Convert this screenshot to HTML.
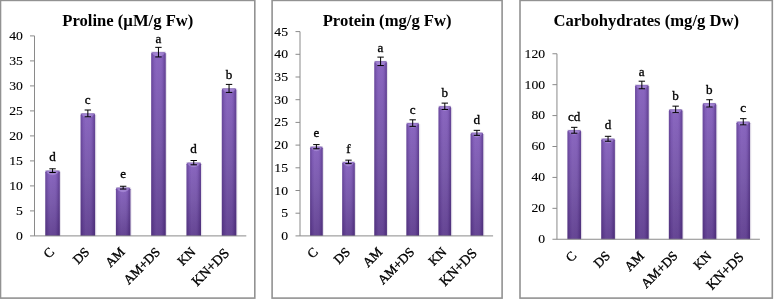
<!DOCTYPE html>
<html><head><meta charset="utf-8"><title>Charts</title>
<style>
html,body{margin:0;padding:0;background:#fff;}
svg{display:block;font-family:"Liberation Serif","Times New Roman",serif;}
.t{font-weight:bold;font-size:15.8px;text-anchor:middle;fill:#000;}
.y{font-size:13.5px;text-anchor:end;fill:#000;stroke:#000;stroke-width:0.12px;}
.x{font-size:13.2px;text-anchor:end;fill:#000;stroke:#000;stroke-width:0.35px;}
.d{font-size:12.4px;text-anchor:middle;fill:#000;stroke:#000;stroke-width:0.3px;}
.ax{stroke:#8a8a8a;stroke-width:1;fill:none;}
.bd{stroke:#929292;stroke-width:1.6;fill:#fff;}
.e{stroke:#000;stroke-width:1;fill:none;}
</style></head><body>
<svg width="774" height="299" viewBox="0 0 774 299">
<defs>
<linearGradient id="gv" x1="0" y1="0" x2="0" y2="1">
<stop offset="0" stop-color="#8661be"/><stop offset="0.5" stop-color="#7555a8"/><stop offset="1" stop-color="#603f90"/>
</linearGradient>
<linearGradient id="gh" x1="0" y1="0" x2="1" y2="0">
<stop offset="0" stop-color="#2a1050" stop-opacity="0.30"/>
<stop offset="0.13" stop-color="#2a1050" stop-opacity="0.14"/>
<stop offset="0.2" stop-color="#2a1050" stop-opacity="0.03"/>
<stop offset="0.35" stop-color="#fff" stop-opacity="0.04"/>
<stop offset="0.6" stop-color="#fff" stop-opacity="0.03"/>
<stop offset="0.8" stop-color="#2a1050" stop-opacity="0.08"/>
<stop offset="0.88" stop-color="#2a1050" stop-opacity="0.22"/>
<stop offset="1" stop-color="#2a1050" stop-opacity="0.38"/>
</linearGradient>
</defs>
<rect x="0" y="0" width="774" height="299" fill="#fff"/>
<rect class="bd" x="0.5" y="0.4" width="254.30" height="297.70"/>
<text class="t" transform="translate(127.8 25.75) scale(1.052 1)">Proline (µM/g Fw)</text>
<rect x="46.50" y="171.65" width="14.50" height="64.25" fill="#7a6a95" opacity="0.18"/>
<path d="M45.30 235.90V172.25Q45.30 170.65 46.90 170.65H58.20Q59.80 170.65 59.80 172.25V235.90Z" fill="url(#gv)"/>
<path d="M45.30 235.90V172.25Q45.30 170.65 46.90 170.65H58.20Q59.80 170.65 59.80 172.25V235.90Z" fill="url(#gh)"/>
<path d="M45.60 170.65H59.50L57.40 173.45Q52.55 177.05 47.70 173.45Z" fill="#cdb8f5" opacity="0.36"/>
<path d="M45.30 170.65H59.80" stroke="#4a2c80" stroke-width="0.8" opacity="0.35"/>
<path class="e" d="M52.55 168.80V172.50M49.35 168.80h6.4M49.35 172.50h6.4"/>
<text class="d" transform="translate(52.45 161.35) scale(1.06 1)">d</text>
<text class="x" transform="translate(54.95 252.80) rotate(-45)">C</text>
<rect x="81.80" y="114.40" width="14.50" height="121.50" fill="#7a6a95" opacity="0.18"/>
<path d="M80.60 235.90V115.00Q80.60 113.40 82.20 113.40H93.50Q95.10 113.40 95.10 115.00V235.90Z" fill="url(#gv)"/>
<path d="M80.60 235.90V115.00Q80.60 113.40 82.20 113.40H93.50Q95.10 113.40 95.10 115.00V235.90Z" fill="url(#gh)"/>
<path d="M80.90 113.40H94.80L92.70 116.20Q87.85 119.80 83.00 116.20Z" fill="#cdb8f5" opacity="0.36"/>
<path d="M80.60 113.40H95.10" stroke="#4a2c80" stroke-width="0.8" opacity="0.35"/>
<path class="e" d="M87.85 110.00V116.80M84.65 110.00h6.4M84.65 116.80h6.4"/>
<text class="d" transform="translate(87.75 104.10) scale(1.06 1)">c</text>
<text class="x" transform="translate(90.25 252.80) rotate(-45)">DS</text>
<rect x="117.10" y="188.65" width="14.50" height="47.25" fill="#7a6a95" opacity="0.18"/>
<path d="M115.90 235.90V189.25Q115.90 187.65 117.50 187.65H128.80Q130.40 187.65 130.40 189.25V235.90Z" fill="url(#gv)"/>
<path d="M115.90 235.90V189.25Q115.90 187.65 117.50 187.65H128.80Q130.40 187.65 130.40 189.25V235.90Z" fill="url(#gh)"/>
<path d="M116.20 187.65H130.10L128.00 190.45Q123.15 194.05 118.30 190.45Z" fill="#cdb8f5" opacity="0.36"/>
<path d="M115.90 187.65H130.40" stroke="#4a2c80" stroke-width="0.8" opacity="0.35"/>
<path class="e" d="M123.15 186.25V189.05M119.95 186.25h6.4M119.95 189.05h6.4"/>
<text class="d" transform="translate(123.05 178.35) scale(1.06 1)">e</text>
<text class="x" transform="translate(125.55 252.80) rotate(-45)">AM</text>
<rect x="152.40" y="53.15" width="14.50" height="182.75" fill="#7a6a95" opacity="0.18"/>
<path d="M151.20 235.90V53.75Q151.20 52.15 152.80 52.15H164.10Q165.70 52.15 165.70 53.75V235.90Z" fill="url(#gv)"/>
<path d="M151.20 235.90V53.75Q151.20 52.15 152.80 52.15H164.10Q165.70 52.15 165.70 53.75V235.90Z" fill="url(#gh)"/>
<path d="M151.50 52.15H165.40L163.30 54.95Q158.45 58.55 153.60 54.95Z" fill="#cdb8f5" opacity="0.36"/>
<path d="M151.20 52.15H165.70" stroke="#4a2c80" stroke-width="0.8" opacity="0.35"/>
<path class="e" d="M158.45 47.35V56.95M155.25 47.35h6.4M155.25 56.95h6.4"/>
<text class="d" transform="translate(158.35 42.85) scale(1.06 1)">a</text>
<text class="x" transform="translate(160.85 252.80) rotate(-45)">AM+DS</text>
<rect x="187.70" y="163.65" width="14.50" height="72.25" fill="#7a6a95" opacity="0.18"/>
<path d="M186.50 235.90V164.25Q186.50 162.65 188.10 162.65H199.40Q201.00 162.65 201.00 164.25V235.90Z" fill="url(#gv)"/>
<path d="M186.50 235.90V164.25Q186.50 162.65 188.10 162.65H199.40Q201.00 162.65 201.00 164.25V235.90Z" fill="url(#gh)"/>
<path d="M186.80 162.65H200.70L198.60 165.45Q193.75 169.05 188.90 165.45Z" fill="#cdb8f5" opacity="0.36"/>
<path d="M186.50 162.65H201.00" stroke="#4a2c80" stroke-width="0.8" opacity="0.35"/>
<path class="e" d="M193.75 160.50V164.80M190.55 160.50h6.4M190.55 164.80h6.4"/>
<text class="d" transform="translate(193.65 153.35) scale(1.06 1)">d</text>
<text class="x" transform="translate(196.15 252.80) rotate(-45)">KN</text>
<rect x="223.00" y="89.40" width="14.50" height="146.50" fill="#7a6a95" opacity="0.18"/>
<path d="M221.80 235.90V90.00Q221.80 88.40 223.40 88.40H234.70Q236.30 88.40 236.30 90.00V235.90Z" fill="url(#gv)"/>
<path d="M221.80 235.90V90.00Q221.80 88.40 223.40 88.40H234.70Q236.30 88.40 236.30 90.00V235.90Z" fill="url(#gh)"/>
<path d="M222.10 88.40H236.00L233.90 91.20Q229.05 94.80 224.20 91.20Z" fill="#cdb8f5" opacity="0.36"/>
<path d="M221.80 88.40H236.30" stroke="#4a2c80" stroke-width="0.8" opacity="0.35"/>
<path class="e" d="M229.05 84.40V92.40M225.85 84.40h6.4M225.85 92.40h6.4"/>
<text class="d" transform="translate(228.95 79.10) scale(1.06 1)">b</text>
<text class="x" style="font-size:14.1px" transform="translate(229.95 253.90) rotate(-45)">KN+DS</text>
<path class="ax" d="M34.5 35.90V235.9"/>
<path class="ax" d="M30.0 235.9H246.30"/>
<text class="y" transform="translate(22.9 240.40) scale(1.015 1)">0</text>
<path class="ax" d="M30.0 210.90H34.5"/>
<text class="y" transform="translate(22.9 215.40) scale(1.015 1)">5</text>
<path class="ax" d="M30.0 185.90H34.5"/>
<text class="y" transform="translate(22.9 190.40) scale(1.015 1)">10</text>
<path class="ax" d="M30.0 160.90H34.5"/>
<text class="y" transform="translate(22.9 165.40) scale(1.015 1)">15</text>
<path class="ax" d="M30.0 135.90H34.5"/>
<text class="y" transform="translate(22.9 140.40) scale(1.015 1)">20</text>
<path class="ax" d="M30.0 110.90H34.5"/>
<text class="y" transform="translate(22.9 115.40) scale(1.015 1)">25</text>
<path class="ax" d="M30.0 85.90H34.5"/>
<text class="y" transform="translate(22.9 90.40) scale(1.015 1)">30</text>
<path class="ax" d="M30.0 60.90H34.5"/>
<text class="y" transform="translate(22.9 65.40) scale(1.015 1)">35</text>
<path class="ax" d="M30.0 35.90H34.5"/>
<text class="y" transform="translate(22.9 40.40) scale(1.015 1)">40</text>
<rect class="bd" x="272.1" y="0.4" width="230.00" height="297.70"/>
<text class="t" transform="translate(387.1 25.75) scale(1.052 1)">Protein (mg/g Fw)</text>
<rect x="311.30" y="147.69" width="12.60" height="88.21" fill="#7a6a95" opacity="0.18"/>
<path d="M310.10 235.90V148.29Q310.10 146.69 311.70 146.69H321.10Q322.70 146.69 322.70 148.29V235.90Z" fill="url(#gv)"/>
<path d="M310.10 235.90V148.29Q310.10 146.69 311.70 146.69H321.10Q322.70 146.69 322.70 148.29V235.90Z" fill="url(#gh)"/>
<path d="M310.40 146.69H322.40L320.30 149.49Q316.40 153.09 312.50 149.49Z" fill="#cdb8f5" opacity="0.36"/>
<path d="M310.10 146.69H322.70" stroke="#4a2c80" stroke-width="0.8" opacity="0.35"/>
<path class="e" d="M316.40 144.60V148.78M313.20 144.60h6.4M313.20 148.78h6.4"/>
<text class="d" transform="translate(316.30 137.39) scale(1.06 1)">e</text>
<text class="x" transform="translate(318.80 252.80) rotate(-45)">C</text>
<rect x="343.40" y="162.90" width="12.60" height="73.00" fill="#7a6a95" opacity="0.18"/>
<path d="M342.20 235.90V163.50Q342.20 161.90 343.80 161.90H353.20Q354.80 161.90 354.80 163.50V235.90Z" fill="url(#gv)"/>
<path d="M342.20 235.90V163.50Q342.20 161.90 343.80 161.90H353.20Q354.80 161.90 354.80 163.50V235.90Z" fill="url(#gh)"/>
<path d="M342.50 161.90H354.50L352.40 164.70Q348.50 168.30 344.60 164.70Z" fill="#cdb8f5" opacity="0.36"/>
<path d="M342.20 161.90H354.80" stroke="#4a2c80" stroke-width="0.8" opacity="0.35"/>
<path class="e" d="M348.50 160.17V163.62M345.30 160.17h6.4M345.30 163.62h6.4"/>
<text class="d" transform="translate(348.40 152.60) scale(1.06 1)">f</text>
<text class="x" transform="translate(350.90 252.80) rotate(-45)">DS</text>
<rect x="375.50" y="62.34" width="12.60" height="173.56" fill="#7a6a95" opacity="0.18"/>
<path d="M374.30 235.90V62.94Q374.30 61.34 375.90 61.34H385.30Q386.90 61.34 386.90 62.94V235.90Z" fill="url(#gv)"/>
<path d="M374.30 235.90V62.94Q374.30 61.34 375.90 61.34H385.30Q386.90 61.34 386.90 62.94V235.90Z" fill="url(#gh)"/>
<path d="M374.60 61.34H386.60L384.50 64.14Q380.60 67.74 376.70 64.14Z" fill="#cdb8f5" opacity="0.36"/>
<path d="M374.30 61.34H386.90" stroke="#4a2c80" stroke-width="0.8" opacity="0.35"/>
<path class="e" d="M380.60 57.11V65.56M377.40 57.11h6.4M377.40 65.56h6.4"/>
<text class="d" transform="translate(380.50 52.04) scale(1.06 1)">a</text>
<text class="x" transform="translate(383.00 252.80) rotate(-45)">AM</text>
<rect x="407.60" y="124.08" width="12.60" height="111.82" fill="#7a6a95" opacity="0.18"/>
<path d="M406.40 235.90V124.68Q406.40 123.08 408.00 123.08H417.40Q419.00 123.08 419.00 124.68V235.90Z" fill="url(#gv)"/>
<path d="M406.40 235.90V124.68Q406.40 123.08 408.00 123.08H417.40Q419.00 123.08 419.00 124.68V235.90Z" fill="url(#gh)"/>
<path d="M406.70 123.08H418.70L416.60 125.88Q412.70 129.48 408.80 125.88Z" fill="#cdb8f5" opacity="0.36"/>
<path d="M406.40 123.08H419.00" stroke="#4a2c80" stroke-width="0.8" opacity="0.35"/>
<path class="e" d="M412.70 119.81V126.35M409.50 119.81h6.4M409.50 126.35h6.4"/>
<text class="d" transform="translate(412.60 113.78) scale(1.06 1)">c</text>
<text class="x" transform="translate(415.10 252.80) rotate(-45)">AM+DS</text>
<rect x="439.70" y="107.28" width="12.60" height="128.62" fill="#7a6a95" opacity="0.18"/>
<path d="M438.50 235.90V107.88Q438.50 106.28 440.10 106.28H449.50Q451.10 106.28 451.10 107.88V235.90Z" fill="url(#gv)"/>
<path d="M438.50 235.90V107.88Q438.50 106.28 440.10 106.28H449.50Q451.10 106.28 451.10 107.88V235.90Z" fill="url(#gh)"/>
<path d="M438.80 106.28H450.80L448.70 109.08Q444.80 112.68 440.90 109.08Z" fill="#cdb8f5" opacity="0.36"/>
<path d="M438.50 106.28H451.10" stroke="#4a2c80" stroke-width="0.8" opacity="0.35"/>
<path class="e" d="M444.80 103.11V109.46M441.60 103.11h6.4M441.60 109.46h6.4"/>
<text class="d" transform="translate(444.70 96.98) scale(1.06 1)">b</text>
<text class="x" transform="translate(447.20 252.80) rotate(-45)">KN</text>
<rect x="471.80" y="133.84" width="12.60" height="102.06" fill="#7a6a95" opacity="0.18"/>
<path d="M470.60 235.90V134.44Q470.60 132.84 472.20 132.84H481.60Q483.20 132.84 483.20 134.44V235.90Z" fill="url(#gv)"/>
<path d="M470.60 235.90V134.44Q470.60 132.84 472.20 132.84H481.60Q483.20 132.84 483.20 134.44V235.90Z" fill="url(#gh)"/>
<path d="M470.90 132.84H482.90L480.80 135.64Q476.90 139.24 473.00 135.64Z" fill="#cdb8f5" opacity="0.36"/>
<path d="M470.60 132.84H483.20" stroke="#4a2c80" stroke-width="0.8" opacity="0.35"/>
<path class="e" d="M476.90 130.34V135.34M473.70 130.34h6.4M473.70 135.34h6.4"/>
<text class="d" transform="translate(476.80 123.54) scale(1.06 1)">d</text>
<text class="x" style="font-size:14.1px" transform="translate(477.80 253.90) rotate(-45)">KN+DS</text>
<path class="ax" d="M300 31.60V235.9"/>
<path class="ax" d="M295.5 235.9H493.10"/>
<text class="y" transform="translate(288.0 239.90) scale(1.015 1)">0</text>
<path class="ax" d="M295.5 213.20H300"/>
<text class="y" transform="translate(288.0 217.20) scale(1.015 1)">5</text>
<path class="ax" d="M295.5 190.50H300"/>
<text class="y" transform="translate(288.0 194.50) scale(1.015 1)">10</text>
<path class="ax" d="M295.5 167.80H300"/>
<text class="y" transform="translate(288.0 171.80) scale(1.015 1)">15</text>
<path class="ax" d="M295.5 145.10H300"/>
<text class="y" transform="translate(288.0 149.10) scale(1.015 1)">20</text>
<path class="ax" d="M295.5 122.40H300"/>
<text class="y" transform="translate(288.0 126.40) scale(1.015 1)">25</text>
<path class="ax" d="M295.5 99.70H300"/>
<text class="y" transform="translate(288.0 103.70) scale(1.015 1)">30</text>
<path class="ax" d="M295.5 77.00H300"/>
<text class="y" transform="translate(288.0 81.00) scale(1.015 1)">35</text>
<path class="ax" d="M295.5 54.30H300"/>
<text class="y" transform="translate(288.0 58.30) scale(1.015 1)">40</text>
<path class="ax" d="M295.5 31.60H300"/>
<text class="y" transform="translate(288.0 35.60) scale(1.015 1)">45</text>
<rect class="bd" x="520.0" y="0.4" width="252.30" height="297.70"/>
<text class="t" transform="translate(646.25 25.75) scale(1.052 1)">Carbohydrates (mg/g Dw)</text>
<rect x="568.65" y="131.27" width="13.60" height="107.98" fill="#7a6a95" opacity="0.18"/>
<path d="M567.45 239.25V131.87Q567.45 130.27 569.05 130.27H579.45Q581.05 130.27 581.05 131.87V239.25Z" fill="url(#gv)"/>
<path d="M567.45 239.25V131.87Q567.45 130.27 569.05 130.27H579.45Q581.05 130.27 581.05 131.87V239.25Z" fill="url(#gh)"/>
<path d="M567.75 130.27H580.75L578.65 133.07Q574.25 136.67 569.85 133.07Z" fill="#cdb8f5" opacity="0.36"/>
<path d="M567.45 130.27H581.05" stroke="#4a2c80" stroke-width="0.8" opacity="0.35"/>
<path class="e" d="M574.25 127.33V133.21M571.05 127.33h6.4M571.05 133.21h6.4"/>
<text class="d" transform="translate(574.15 120.97) scale(1.06 1)">cd</text>
<text class="x" transform="translate(577.15 256.65) rotate(-45)">C</text>
<rect x="602.45" y="139.77" width="13.60" height="99.48" fill="#7a6a95" opacity="0.18"/>
<path d="M601.25 239.25V140.37Q601.25 138.77 602.85 138.77H613.25Q614.85 138.77 614.85 140.37V239.25Z" fill="url(#gv)"/>
<path d="M601.25 239.25V140.37Q601.25 138.77 602.85 138.77H613.25Q614.85 138.77 614.85 140.37V239.25Z" fill="url(#gh)"/>
<path d="M601.55 138.77H614.55L612.45 141.57Q608.05 145.17 603.65 141.57Z" fill="#cdb8f5" opacity="0.36"/>
<path d="M601.25 138.77H614.85" stroke="#4a2c80" stroke-width="0.8" opacity="0.35"/>
<path class="e" d="M608.05 136.30V141.24M604.85 136.30h6.4M604.85 141.24h6.4"/>
<text class="d" transform="translate(607.95 129.47) scale(1.06 1)">d</text>
<text class="x" transform="translate(610.95 256.65) rotate(-45)">DS</text>
<rect x="636.25" y="85.98" width="13.60" height="153.27" fill="#7a6a95" opacity="0.18"/>
<path d="M635.05 239.25V86.58Q635.05 84.98 636.65 84.98H647.05Q648.65 84.98 648.65 86.58V239.25Z" fill="url(#gv)"/>
<path d="M635.05 239.25V86.58Q635.05 84.98 636.65 84.98H647.05Q648.65 84.98 648.65 86.58V239.25Z" fill="url(#gh)"/>
<path d="M635.35 84.98H648.35L646.25 87.78Q641.85 91.38 637.45 87.78Z" fill="#cdb8f5" opacity="0.36"/>
<path d="M635.05 84.98H648.65" stroke="#4a2c80" stroke-width="0.8" opacity="0.35"/>
<path class="e" d="M641.85 81.19V88.76M638.65 81.19h6.4M638.65 88.76h6.4"/>
<text class="d" transform="translate(641.75 75.68) scale(1.06 1)">a</text>
<text class="x" transform="translate(644.75 256.65) rotate(-45)">AM</text>
<rect x="670.05" y="110.40" width="13.60" height="128.85" fill="#7a6a95" opacity="0.18"/>
<path d="M668.85 239.25V111.00Q668.85 109.40 670.45 109.40H680.85Q682.45 109.40 682.45 111.00V239.25Z" fill="url(#gv)"/>
<path d="M668.85 239.25V111.00Q668.85 109.40 670.45 109.40H680.85Q682.45 109.40 682.45 111.00V239.25Z" fill="url(#gh)"/>
<path d="M669.15 109.40H682.15L680.05 112.20Q675.65 115.80 671.25 112.20Z" fill="#cdb8f5" opacity="0.36"/>
<path d="M668.85 109.40H682.45" stroke="#4a2c80" stroke-width="0.8" opacity="0.35"/>
<path class="e" d="M675.65 106.15V112.65M672.45 106.15h6.4M672.45 112.65h6.4"/>
<text class="d" transform="translate(675.55 100.10) scale(1.06 1)">b</text>
<text class="x" transform="translate(678.55 256.65) rotate(-45)">AM+DS</text>
<rect x="703.85" y="104.37" width="13.60" height="134.88" fill="#7a6a95" opacity="0.18"/>
<path d="M702.65 239.25V104.97Q702.65 103.37 704.25 103.37H714.65Q716.25 103.37 716.25 104.97V239.25Z" fill="url(#gv)"/>
<path d="M702.65 239.25V104.97Q702.65 103.37 704.25 103.37H714.65Q716.25 103.37 716.25 104.97V239.25Z" fill="url(#gh)"/>
<path d="M702.95 103.37H715.95L713.85 106.17Q709.45 109.77 705.05 106.17Z" fill="#cdb8f5" opacity="0.36"/>
<path d="M702.65 103.37H716.25" stroke="#4a2c80" stroke-width="0.8" opacity="0.35"/>
<path class="e" d="M709.45 99.74V107.00M706.25 99.74h6.4M706.25 107.00h6.4"/>
<text class="d" transform="translate(709.35 94.07) scale(1.06 1)">b</text>
<text class="x" transform="translate(712.35 256.65) rotate(-45)">KN</text>
<rect x="737.65" y="122.77" width="13.60" height="116.48" fill="#7a6a95" opacity="0.18"/>
<path d="M736.45 239.25V123.37Q736.45 121.77 738.05 121.77H748.45Q750.05 121.77 750.05 123.37V239.25Z" fill="url(#gv)"/>
<path d="M736.45 239.25V123.37Q736.45 121.77 738.05 121.77H748.45Q750.05 121.77 750.05 123.37V239.25Z" fill="url(#gh)"/>
<path d="M736.75 121.77H749.75L747.65 124.57Q743.25 128.17 738.85 124.57Z" fill="#cdb8f5" opacity="0.36"/>
<path d="M736.45 121.77H750.05" stroke="#4a2c80" stroke-width="0.8" opacity="0.35"/>
<path class="e" d="M743.25 118.67V124.86M740.05 118.67h6.4M740.05 124.86h6.4"/>
<text class="d" transform="translate(743.15 112.47) scale(1.06 1)">c</text>
<text class="x" style="font-size:14.1px" transform="translate(744.65 257.75) rotate(-45)">KN+DS</text>
<path class="ax" d="M556.95 53.75V239.25"/>
<path class="ax" d="M552.45 239.25H759.90"/>
<text class="y" transform="translate(545.1 243.15) scale(1.015 1)">0</text>
<path class="ax" d="M552.45 208.33H556.95"/>
<text class="y" transform="translate(545.1 212.23) scale(1.015 1)">20</text>
<path class="ax" d="M552.45 177.42H556.95"/>
<text class="y" transform="translate(545.1 181.32) scale(1.015 1)">40</text>
<path class="ax" d="M552.45 146.50H556.95"/>
<text class="y" transform="translate(545.1 150.40) scale(1.015 1)">60</text>
<path class="ax" d="M552.45 115.58H556.95"/>
<text class="y" transform="translate(545.1 119.48) scale(1.015 1)">80</text>
<path class="ax" d="M552.45 84.67H556.95"/>
<text class="y" transform="translate(545.1 88.57) scale(1.015 1)">100</text>
<path class="ax" d="M552.45 53.75H556.95"/>
<text class="y" transform="translate(545.1 57.65) scale(1.015 1)">120</text>
</svg></body></html>
